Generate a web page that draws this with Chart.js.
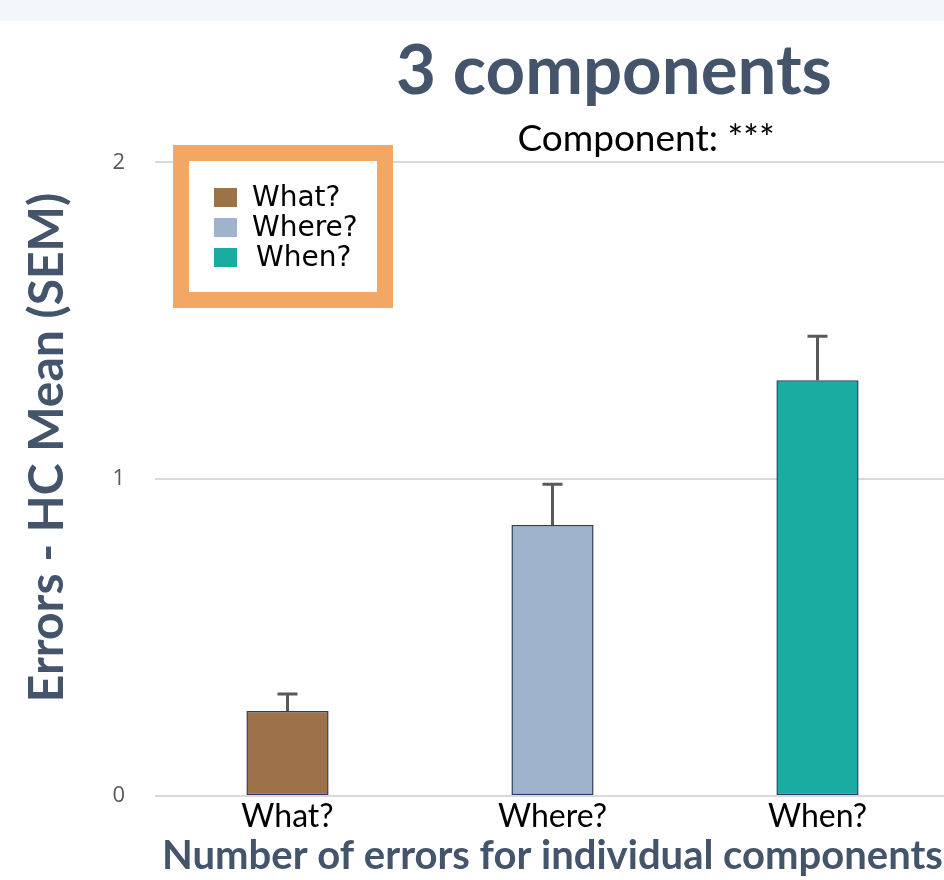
<!DOCTYPE html>
<html>
<head>
<meta charset="utf-8">
<script src="https://cdn.jsdelivr.net/npm/chart.js@4.4.1/dist/chart.umd.min.js"></script>
<style>
  html, body { margin: 0; padding: 0; background: #ffffff; overflow: hidden; width: 944px; height: 880px; }
  #band { position: absolute; left: 0; top: 0; width: 944px; height: 21px; background: #f3f7f9; }
  #wrap { position: absolute; left: 0; top: 0; width: 952px; height: 880px; }
</style>
</head>
<body>
<div id="band"></div>
<div id="wrap"><canvas id="c" width="952" height="880"></canvas></div>
<script>
// Error counts relative to the healthy-control mean, per memory component
const categories = ['What?', 'Where?', 'When?'];
const means = [0.268, 0.855, 1.312];
const sem = [0.054, 0.129, 0.139];
const barColors = ['#9e7249', '#9fb3cd', '#1aaca0'];
const yTickValues = [0, 1, 2];

const titleText = '3 components';
const subtitleText = 'Component: ***';
const xTitle = 'Number of errors for individual components';
const yTitle = 'Errors - HC Mean (SEM)';

// Upper SEM whiskers above each bar
const errorBars = {
  id: 'errorBars',
  afterDatasetsDraw(chart) {
    const { ctx, scales: { y } } = chart;
    const meta = chart.getDatasetMeta(0);
    ctx.save();
    ctx.strokeStyle = '#595959';
    ctx.lineWidth = 3;
    meta.data.forEach((bar, i) => {
      const top = y.getPixelForValue(means[i]);
      const cap = y.getPixelForValue(means[i] + sem[i]);
      ctx.beginPath();
      ctx.moveTo(bar.x, top);
      ctx.lineTo(bar.x, cap);
      ctx.moveTo(bar.x - 10, cap);
      ctx.lineTo(bar.x + 10, cap);
      ctx.stroke();
    });
    ctx.restore();
  }
};

// Headline and significance note above the plot
const headings = {
  id: 'headings',
  afterDraw(chart) {
    const { ctx } = chart;
    ctx.save();
    ctx.textAlign = 'center';
    ctx.textBaseline = 'alphabetic';
    ctx.fillStyle = '#44546a';
    ctx.font = 'bold 69px Lato';
    ctx.fillText(titleText, 614, 94);
    ctx.fillStyle = '#000000';
    ctx.font = '37px Lato';
    ctx.fillText(subtitleText, 646, 151);
    ctx.restore();
  }
};

// Boxed category key in the upper-left of the plot
const boxedLegend = {
  id: 'boxedLegend',
  afterDraw(chart) {
    const { ctx } = chart;
    ctx.save();
    ctx.fillStyle = '#ffffff';
    ctx.fillRect(181, 153, 204, 147);
    ctx.strokeStyle = '#f2a765';
    ctx.lineWidth = 16;
    ctx.strokeRect(181, 153, 204, 147);
    ctx.font = '28px "DejaVu Sans"';
    ctx.textBaseline = 'middle';
    ctx.textAlign = 'left';
    const textX = [252, 252, 256];
    categories.forEach((name, i) => {
      const cy = 197.5 + i * 30;
      ctx.fillStyle = barColors[i];
      ctx.fillRect(214, cy - 9.5, 23, 19);
      ctx.fillStyle = '#000000';
      ctx.fillText(name, textX[i], cy + 1);
    });
    ctx.restore();
  }
};

new Chart(document.getElementById('c'), {
  type: 'bar',
  data: {
    labels: categories,
    datasets: [{
      data: means,
      backgroundColor: barColors,
      borderColor: '#2b3b66',
      borderWidth: 1.5,
      borderSkipped: false,
      barPercentage: 0.31,
      categoryPercentage: 1.0
    }]
  },
  options: {
    responsive: false,
    animation: false,
    layout: { padding: { top: 99, left: 0, right: 2, bottom: 0 } },
    plugins: {
      legend: { display: false },
      tooltip: { enabled: false }
    },
    scales: {
      x: {
        grid: { display: false, drawTicks: false },
        border: { display: false },
        ticks: {
          color: '#000000',
          font: { family: 'Lato', size: 32 },
          padding: 1
        },
        title: {
          display: true,
          text: xTitle,
          color: '#44546a',
          font: { family: 'Lato', size: 40, weight: 'bold' },
          padding: { top: 0, bottom: 0 }
        },
        afterFit(scale) { scale.height = 84; }
      },
      y: {
        min: 0,
        max: 2.2,
        grid: { color: '#d9d9d9', lineWidth: 2, drawTicks: false },
        border: { display: false },
        ticks: {
          stepSize: 1,
          color: '#595959',
          font: { family: 'Open Sans', size: 22 },
          padding: 30
        },
        afterBuildTicks(scale) {
          scale.ticks = yTickValues.map(v => ({ value: v }));
        },
        title: {
          display: true,
          text: yTitle,
          color: '#44546a',
          font: { family: 'Lato', size: 48, weight: 'bold' },
          padding: { top: 19, bottom: 0 }
        },
        afterFit(scale) { scale.width = 155; }
      }
    }
  },
  plugins: [errorBars, headings, boxedLegend]
});
</script>
</body>
</html>
